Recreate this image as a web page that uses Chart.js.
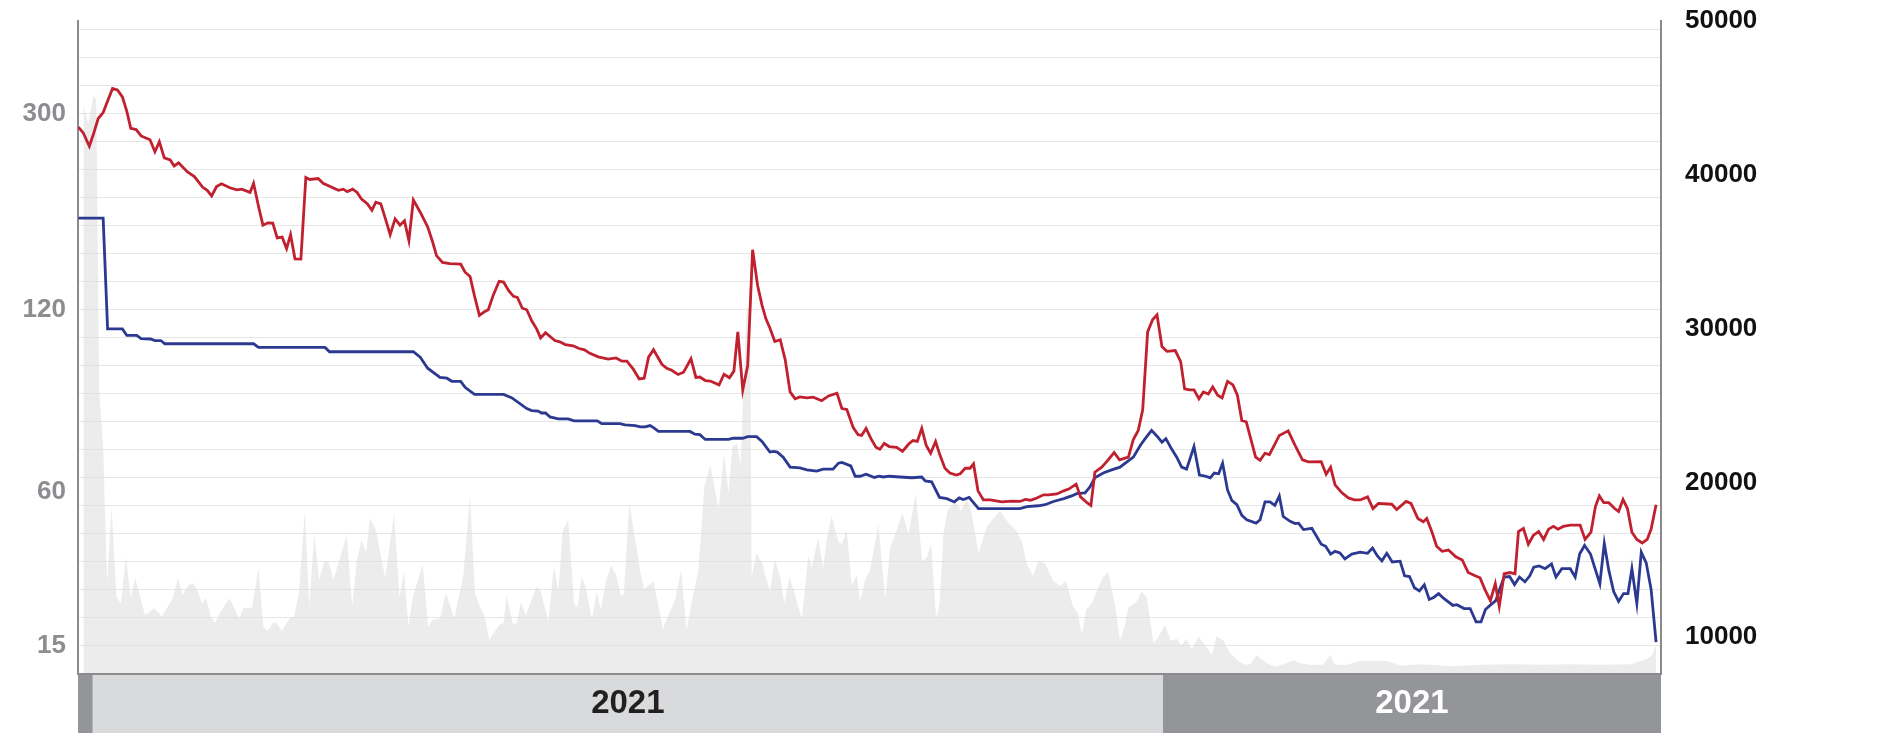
<!DOCTYPE html>
<html lang="en">
<head>
  <meta charset="UTF-8">
  <title>Price and volume</title>
  <script src="https://cdn.jsdelivr.net/npm/chart.js"></script>
  <style>
    html, body { margin: 0; padding: 0; background: #fff; }
    #wrap { width: 1896px; height: 733px; }
  </style>
</head>
<body>
  <div id="wrap"><canvas id="chart"></canvas></div>

  <script>
    // day offsets (x) and prices
    const redDays = [0.1,1.1,2.3,3.2,4.1,5.1,7.0,8.0,9.0,9.9,10.7,11.8,12.8,14.6,15.6,16.5,17.5,18.7,19.5,20.4,22.2,23.6,25.3,26.2,27.1,28.1,29.1,30.8,32.2,33.2,34.9,35.6,36.6,37.5,38.5,39.5,40.4,41.4,42.3,43.1,44.0,45.2,46.2,47.0,48.7,49.7,51.8,52.8,53.8,54.6,55.7,56.6,57.5,58.7,59.6,60.4,61.4,62.3,63.3,64.3,65.3,66.2,67.1,68.0,69.4,70.9,71.9,72.7,73.9,75.4,77.6,78.5,79.5,80.4,81.4,82.4,83.2,84.2,85.4,86.3,87.3,88.3,89.1,90.1,91.0,92.0,93.0,93.8,94.8,96.7,97.7,98.8,100.4,101.6,102.7,103.8,105.5,107.5,109.1,110.3,111.3,112.6,113.8,114.8,115.7,116.7,118.4,119.4,120.4,121.7,122.8,124.3,125.3,126.1,127.2,128.2,130.0,131.0,132.1,133.0,133.8,134.8,135.8,136.8,137.8,138.7,139.5,140.3,141.3,142.4,143.4,144.4,145.4,146.4,147.8,149.1,150.8,152.2,153.9,154.9,155.9,157.2,158.2,158.9,159.8,160.8,161.8,162.6,163.5,164.5,166.0,167.2,168.4,169.3,170.2,171.1,172.0,172.9,173.9,174.8,175.8,176.8,178.1,178.9,179.9,180.9,181.6,182.5,183.6,185.0,187.3,189.4,191.0,192.1,193.1,194.1,195.8,196.8,198.5,199.9,201.0,202.4,203.3,204.6,205.4,206.2,207.6,208.9,210.1,211.2,213.0,214.0,215.0,215.9,216.9,217.9,218.8,219.8,220.8,222.5,223.6,224.4,225.4,226.3,227.3,228.2,229.2,230.1,231.1,232.0,233.1,234.2,235.1,236.0,236.9,238.8,239.7,240.7,241.6,243.6,245.4,246.8,248.3,249.5,252.1,253.1,254.0,254.9,256.3,257.6,258.8,260.0,261.5,262.6,263.7,266.4,267.4,269.3,270.3,271.7,272.8,273.5,274.5,275.5,276.6,277.9,279.4,280.7,281.9,283.3,284.3,285.3,286.4,287.4,288.2,289.2,290.4,291.4,292.1,293.1,294.1,295.1,296.2,297.2,298.2,299.2,300.1,301.2,302.6,304.6,305.6,306.8,307.7,308.5,309.4,310.4,311.6,312.4,313.3,314.2,315.1,316.1,317.2,318.2,319.0,320.0];
    const redVals = [43100,42710,41860,42710,43660,44050,45610,45520,45070,44120,43020,42940,42530,42280,41500,42150,41100,40970,40580,40780,40190,39890,39190,38990,38630,39240,39420,39160,39020,39070,38860,39450,37960,36730,36880,36860,35900,35950,35210,36110,34540,34520,39830,39700,39760,39450,39140,38990,39070,38910,39070,38860,38420,38110,37700,38220,38110,37190,36110,37140,36730,37010,35730,38370,37570,36620,35650,34750,34310,34230,34200,33670,33390,32130,30870,31100,31230,32180,33080,33030,32490,32100,32030,31330,31230,30510,29990,29400,29740,29230,29150,28970,28890,28710,28630,28400,28170,28020,28100,27890,27890,27370,26730,26780,28150,28630,27690,27430,27300,27020,27170,28040,26830,26860,26630,26600,26350,27040,26810,27240,29790,26020,27610,35130,32820,31530,30640,30050,29170,29280,27990,25890,25450,25570,25500,25550,25320,25630,25810,24810,24750,23570,23110,23060,23520,22850,22290,22160,22540,22340,22290,22030,22490,22730,22670,23520,22410,21900,22670,21770,20930,20620,20490,20570,20930,20930,21210,19460,18870,18870,18740,18790,18770,18900,18850,18950,19200,19200,19260,19460,19590,19900,19070,18690,18510,20670,21000,21470,21950,21470,21650,22800,23390,24730,29790,30580,30900,28840,28530,28580,27860,26090,26020,26020,25450,25890,25760,26220,25680,25500,26580,26350,25680,24030,23950,21650,21440,21900,21820,23060,23360,22410,21470,21340,21360,20540,21000,19850,19330,19000,18870,18870,19070,18310,18640,18590,18250,18770,18640,17660,17450,17660,16840,15860,15530,15610,15170,14970,14150,13940,13810,13040,12320,13420,11960,14070,14150,14070,16820,17020,15990,16560,16820,16300,16970,17150,16970,17150,17230,17230,16300,16770,18440,19130,18690,18690,18310,18120,18900,18310,16770,16300,16070,16300,16980,18560];

    const blueDays = [0.1,5.1,6.0,9.0,9.9,11.9,12.8,14.7,15.6,16.8,17.6,35.6,36.6,50.1,51.0,68.0,69.4,70.9,73.4,74.8,75.8,77.6,78.5,80.4,86.3,88.0,91.0,92.0,93.3,94.0,94.8,95.7,97.4,99.4,100.6,105.3,106.2,109.9,110.9,113.0,114.0,115.0,116.0,116.7,117.7,124.1,125.1,126.1,127.2,131.9,132.9,134.8,135.8,137.6,138.7,140.3,141.1,141.8,143.0,144.4,146.4,147.8,149.8,151.1,153.1,154.2,154.9,156.7,157.6,158.6,159.8,161.5,162.4,163.3,164.5,166.7,169.1,171.1,171.8,173.1,174.7,176.2,177.7,178.7,179.5,180.7,182.6,191.0,192.4,194.7,196.1,197.8,199.9,201.5,202.5,204.2,205.2,206.2,207.9,209.6,211.3,212.7,214.0,215.4,216.4,217.7,218.9,219.8,220.6,221.8,222.8,223.8,224.8,226.3,227.4,228.6,229.6,230.4,231.3,232.1,233.1,234.0,235.0,236.0,237.0,238.9,239.7,240.7,241.7,242.7,243.6,244.4,245.8,246.8,247.5,248.5,250.2,252.1,253.0,254.0,254.9,255.9,256.9,258.3,260.0,261.5,262.5,263.5,264.4,265.4,266.5,268.1,269.0,270.0,271.0,272.0,273.0,274.0,274.9,275.9,276.9,278.8,279.6,281.1,282.3,283.5,284.5,285.4,286.5,287.5,288.3,289.2,290.3,291.3,292.3,293.4,294.4,295.2,296.3,297.5,298.8,299.7,300.9,302.6,303.6,304.5,305.5,306.7,308.6,309.5,310.4,311.4,312.4,313.4,314.3,315.1,316.1,317.0,318.0,319.0,320.0];
    const blueVals = [37190,37190,29990,29990,29560,29560,29350,29330,29230,29230,29020,29020,28780,28780,28500,28500,28150,27430,26830,26780,26580,26580,26190,25730,25730,25500,24810,24680,24650,24520,24520,24270,24140,24140,24010,24010,23830,23830,23750,23700,23620,23620,23700,23570,23320,23320,23140,23110,22800,22800,22880,22880,22980,22980,22670,21980,22030,21980,21650,21000,20950,20820,20740,20870,20870,21260,21310,21080,20410,20410,20540,20330,20410,20360,20410,20360,20310,20360,20100,20050,19030,18950,18740,19000,18900,19030,18310,18310,18440,18490,18560,18770,18950,19130,19280,19330,19720,20310,20620,20820,21000,21340,21650,22410,22850,23390,22980,22620,22850,22160,21650,21000,20870,22340,20490,20410,20310,20620,20570,21260,19520,18820,18560,17870,17580,17360,17580,18740,18740,18510,19130,17790,17480,17330,17360,16940,17020,15990,15860,15350,15530,15430,15040,15350,15480,15400,15740,15230,14910,15400,14840,14890,13940,13890,13160,12960,13350,12400,12530,12780,12480,12010,12060,11810,11810,10940,10940,11750,12060,12320,13090,13860,13890,13370,13860,13550,13940,14500,14580,14400,14710,13860,14400,14400,13860,15350,15910,15350,13420,16040,14320,12910,12270,12780,12780,14400,12140,15480,14780,13040,9620];

    // traded volume, index units (0 = bottom, 100 = top of plot)
    const volDays = [1.1,2.1,3.1,3.7,4.3,5.1,5.9,6.8,7.8,8.7,9.7,10.7,11.6,13.6,15.4,17.0,19.2,20.3,21.2,22.4,23.3,24.2,25.1,26.0,26.9,27.8,28.7,30.7,31.7,32.7,33.5,35.3,36.6,37.6,38.5,39.5,40.3,41.3,43.0,43.8,44.8,46.0,46.9,47.9,48.9,49.9,50.8,51.8,54.5,55.6,56.5,57.5,58.4,59.2,60.4,62.3,64.1,65.2,66.1,67.0,67.9,69.9,71.0,71.9,73.4,74.6,76.3,78.1,79.5,80.5,81.5,82.5,83.4,85.4,86.3,86.9,88.2,89.0,89.8,90.8,92.9,93.7,95.4,96.5,97.4,98.3,99.4,100.6,101.3,102.1,103.0,104.2,105.2,106.0,107.0,108.1,109.2,110.1,110.7,111.8,113.0,114.1,114.8,116.7,118.6,119.7,121.1,122.3,123.4,124.8,125.8,127.0,128.2,129.9,131.0,131.9,132.7,133.6,134.4,134.9,135.6,136.3,136.6,137.6,138.7,140.3,141.3,142.4,143.2,144.3,146.8,148.1,148.8,150.1,151.1,151.8,152.8,154.2,154.9,155.9,156.9,157.9,158.6,159.6,160.6,162.3,163.7,164.7,166.0,167.2,168.4,169.9,171.2,172.1,173.0,174.0,174.7,175.5,176.3,177.9,179.1,180.2,181.2,182.6,184.3,185.6,187.0,188.0,189.0,190.2,191.4,192.4,193.7,194.7,196.1,197.8,199.1,200.4,201.7,202.7,203.6,204.4,205.6,206.7,207.9,208.9,210.3,211.3,212.3,213.0,214.7,215.7,216.7,218.1,219.1,220.4,221.6,222.8,223.8,224.7,225.9,227.2,228.6,229.9,230.9,232.3,233.6,235.3,236.7,237.7,239.0,240.4,241.7,243.0,245.0,246.5,247.8,249.7,252.5,253.9,254.9,257.3,260.0,265.4,268.1,272.4,278.5,284.6,290.7,296.8,302.9,308.6,314.8,318.2,319.2,320.0];
    const volVals = [87.1,84.3,88.5,88.0,43.2,34.8,13.9,25.6,11.8,10.8,18.0,11.6,14.7,9.0,10.1,8.8,11.6,14.7,12.1,13.6,13.9,12.9,10.8,11.6,8.8,7.8,9.3,11.6,10.1,8.5,10.1,10.1,16.2,7.2,6.6,7.8,7.8,6.6,8.6,8.8,12.4,24.9,10.3,21.5,14.4,17.2,17.2,14.4,21.3,10.3,17.2,20.5,18.6,23.8,22.1,14.7,24.6,11.7,15.7,7.2,11.8,16.8,7.2,8.3,8.5,12.4,8.5,14.9,27.2,12.4,10.3,8.8,5.2,7.5,7.8,12.0,7.6,7.8,11.0,9.0,13.3,13.0,8.0,16.6,12.6,21.9,23.6,10.8,10.2,14.9,13.2,8.4,12.6,9.9,14.1,16.6,15.0,11.9,12.2,26.2,20.5,15.3,13.0,14.2,6.9,9.0,11.4,15.9,6.7,12.3,15.9,28.7,32.0,25.3,33.8,27.7,34.8,35.3,32.0,43.0,56.2,55.7,14.9,18.5,17.0,12.6,17.7,14.7,10.8,14.9,8.5,18.2,16.4,20.8,16.2,20.5,24.2,20.2,19.9,22.0,13.5,15.2,11.1,14.4,15.9,22.9,11.4,19.4,22.0,24.7,21.4,27.7,17.2,17.8,19.9,8.7,10.5,21.4,25.0,26.4,25.0,26.8,24.7,18.4,22.6,23.8,25.0,23.8,22.9,22.0,20.2,16.9,15.0,17.3,16.9,14.2,13.5,14.2,10.5,9.3,6.0,9.8,10.8,12.9,14.9,15.6,10.5,5.1,7.5,10.2,11.1,12.6,11.8,4.7,5.7,7.5,5.1,5.4,4.4,5.4,3.8,5.7,4.4,2.9,5.8,5.1,3.2,2.0,1.4,1.5,2.9,2.0,1.4,1.1,1.7,2.1,1.7,1.4,1.4,2.9,1.4,1.4,2.0,2.0,1.3,1.5,1.2,1.4,1.5,1.4,1.5,1.4,1.5,2.3,2.9,4.4];

    // year strip under the plot: first day of each period
    const periodStarts = [0, 3, 220];
    const periodLabels = ['', '2021', '2021'];

    // left scale labels sit on the gridline units (23 gridlines)
    const gridLines = 23;
    const leftTickPos = [1, 6.5, 13, 20];
    const leftTickLabels = ['15', '60', '120', '300'];
    const rightTicks = [10000, 20000, 30000, 40000, 50000];

    const pts = (xs, ys) => xs.map((x, i) => ({ x: x, y: ys[i] }));
    const tickFont = { family: '"Liberation Sans", Arial, sans-serif', size: 26, weight: 'bold' };

    // keep tick labels from pushing the plot area inwards
    const noLabelPadding = (width) => s => {
      s.width = width;
      s.paddingTop = 0;
      s.paddingBottom = 0;
    };

    const yearStrip = {
      id: 'yearStrip',
      afterDraw(chart) {
        const { ctx, chartArea } = chart;
        const x = chart.scales.x;
        const top = chartArea.bottom;
        const h = chart.height - top;
        const fills = ['#939598', '#d9dadc', '#939598'];
        const inks = ['#ffffff', '#231f20', '#ffffff'];
        ctx.save();
        periodStarts.forEach((s, i) => {
          const x0 = x.getPixelForValue(s);
          const end = i + 1 < periodStarts.length ? periodStarts[i + 1] : x.max;
          const x1 = x.getPixelForValue(end);
          ctx.fillStyle = fills[i];
          ctx.fillRect(x0, top, x1 - x0, h);
          if (periodLabels[i]) {
            ctx.fillStyle = inks[i];
            ctx.font = 'bold 33px "Liberation Sans", Arial, sans-serif';
            ctx.textAlign = 'center';
            ctx.textBaseline = 'alphabetic';
            ctx.fillText(periodLabels[i], (x0 + x1) / 2, top + 39);
          }
        });
        ctx.strokeStyle = '#8c8c8c';
        ctx.lineWidth = 2;
        ctx.beginPath();
        ctx.moveTo(chartArea.left, top);
        ctx.lineTo(chartArea.right, top);
        ctx.stroke();
        ctx.restore();
      }
    };

    new Chart(document.getElementById('chart'), {
      type: 'line',
      data: {
        datasets: [
          {
            label: 'red',
            data: pts(redDays, redVals),
            yAxisID: 'y',
            borderColor: '#c1202f',
            borderWidth: 2.8,
            pointRadius: 0,
            tension: 0,
            order: 1
          },
          {
            label: 'blue',
            data: pts(blueDays, blueVals),
            yAxisID: 'y',
            borderColor: '#2b3990',
            borderWidth: 2.8,
            pointRadius: 0,
            tension: 0,
            order: 2
          },
          {
            label: 'volume',
            data: pts(volDays, volVals),
            yAxisID: 'yVol',
            borderWidth: 0,
            borderColor: 'rgba(0,0,0,0)',
            backgroundColor: 'rgba(221,221,221,0.56)',
            fill: 'origin',
            pointRadius: 0,
            tension: 0,
            order: 3
          }
        ]
      },
      options: {
        responsive: true,
        maintainAspectRatio: false,
        animation: false,
        layout: { padding: { top: 21, bottom: 59, left: 0, right: 0 } },
        plugins: {
          legend: { display: false },
          tooltip: { enabled: false }
        },
        scales: {
          x: { type: 'linear', min: 0, max: 321, display: false },
          yL: {
            position: 'left',
            min: 0,
            max: 23.32,
            afterBuildTicks: s => {
              const v = [];
              for (let k = 0; k <= gridLines; k++) v.push(k);
              leftTickPos.forEach(p => { if (!v.includes(p)) v.push(p); });
              s.ticks = v.sort((a, b) => a - b).map(value => ({ value }));
            },
            afterFit: noLabelPadding(78),
            grid: {
              drawTicks: false,
              lineWidth: 1,
              color: c => Number.isInteger(c.tick.value) ? '#e6e6e6' : 'rgba(0,0,0,0)'
            },
            border: { color: '#8a8a8a', width: 2 },
            ticks: {
              autoSkip: false,
              padding: 12,
              color: '#8b8d90',
              font: tickFont,
              callback: v => {
                const i = leftTickPos.indexOf(v);
                return i >= 0 ? leftTickLabels[i] : '';
              }
            }
          },
          y: {
            position: 'right',
            min: 7555,
            max: 50000,
            afterBuildTicks: s => { s.ticks = rightTicks.map(value => ({ value })); },
            afterFit: noLabelPadding(235),
            grid: { display: false, drawTicks: false },
            border: { color: '#8a8a8a', width: 2 },
            ticks: {
              autoSkip: false,
              padding: 24,
              color: '#111111',
              font: tickFont,
              callback: v => String(v)
            }
          },
          yVol: { display: false, min: 0, max: 100 }
        }
      },
      plugins: [yearStrip]
    });
  </script>
</body>
</html>
